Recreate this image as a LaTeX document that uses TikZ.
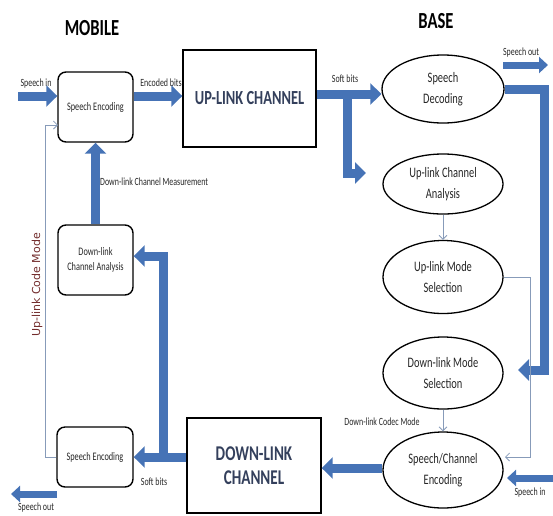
\documentclass[tikz,border=0pt]{standalone}
\usepackage{fontspec}
\setmainfont{Carlito}[FakeStretch=0.72]
\newfontfamily\widefont{DejaVu Sans}
\usetikzlibrary{shapes.geometric,arrows.meta,calc}
\definecolor{thickblue}{RGB}{70,115,182}
\definecolor{thinblue}{RGB}{135,155,185}
\definecolor{codecol}{RGB}{115,45,45}
\definecolor{chtext}{RGB}{52,64,92}
\begin{document}
\begin{tikzpicture}[x=1pt,y=-1pt,
  rbox/.style={draw,line width=1.4pt,rounded corners=8pt,inner sep=0pt,align=center,
    font=\fontsize{11.5}{15}\selectfont,text=black!85},
  chbox/.style={draw,line width=1.4pt,inner sep=0pt,align=center,
    font=\bfseries\fontsize{20}{24}\selectfont,text=chtext},
  ell/.style={draw,ellipse,line width=1.3pt,inner sep=0pt,align=center,
    font=\fontsize{14.5}{21}\selectfont,text=black!85},
  fat/.style={draw=thickblue,line width=9pt,line join=miter,-{Triangle[length=11pt,width=21pt]}},
  mid/.style={draw=thickblue,line width=7pt,-{Triangle[length=9pt,width=16pt]}},
  thin/.style={draw=thinblue,line width=0.8pt,-{Straight Barb[length=4pt,width=8pt]}},
  lbl/.style={inner sep=0pt,font=\fontsize{11}{13}\selectfont,text=black!85},
  title/.style={inner sep=0pt,font=\bfseries\fontsize{23}{26}\selectfont}
]
\useasboundingbox (0,0) rectangle (553,515);

% titles
\node[title] (tmob) at (92,28) {MOBILE};
\node[title] (tbase) at (436,21) {BASE};

% mobile side
\node[rbox,minimum width=75pt,minimum height=70pt] (seTop) at (95.5,107) {Speech Encoding};
\node[rbox,minimum width=75pt,minimum height=70pt] (dca) at (95.5,260) {Down-link\\Channel Analysis};
\node[rbox,minimum width=76pt,minimum height=60pt] (seBot) at (95,457) {Speech Encoding};

% channels
\node[chbox,minimum width=133pt,minimum height=97pt] (upch) at (249.5,98.5) {UP-LINK CHANNEL};
\node[chbox,minimum width=134pt,minimum height=95pt,font=\bfseries\fontsize{21}{24}\selectfont] (dnch) at (254,465.5) {DOWN-LINK\\CHANNEL};

% base side
\node[ell,minimum width=122pt,minimum height=68pt] (sd) at (443,89) {Speech\\Decoding};
\node[ell,minimum width=120pt,minimum height=60pt] (uca) at (443,184) {Up-link Channel\\Analysis};
\node[ell,minimum width=120pt,minimum height=73pt] (ums) at (443,277) {Up-link Mode\\Selection};
\node[ell,minimum width=120pt,minimum height=72pt] (dms) at (443,373) {Down-link Mode\\Selection};
\node[ell,minimum width=120pt,minimum height=76pt] (sce) at (443,470) {Speech/Channel\\Encoding};

% helper coordinates
\coordinate (sinA) at (18,96);
\coordinate (sbY) at (0,94);
\coordinate (br1) at (347,94);
\coordinate (br2) at (366,173);
\coordinate (so1) at (503,65);
\coordinate (so2) at (548,65);
\coordinate (rx) at (544,0);
\coordinate (dmtip) at (518,370);
\coordinate (tx) at (530,0);
\coordinate (scein) at (505,457);
\coordinate (si1) at (553,478);
\coordinate (si2) at (507,478);
\coordinate (lx) at (45,0);
\coordinate (tin) at (58,125);
\coordinate (bx) at (163,457);
\coordinate (bY) at (0,256);
\coordinate (sob1) at (57,494);
\coordinate (sob2) at (11,494);

% thick connectors
\draw[fat] (sinA) -- (sinA -| seTop.west);
\draw[fat] (seTop.east |- sinA) -- (upch.west |- sinA);
\draw[fat] (upch.east |- sbY) -- (sd.west |- sbY);
\draw[fat] (br1) -- (br1 |- br2) -- (br2);
\draw[mid] (so1) -- (so2);
\draw[fat] (sd.east) -| (rx |- dmtip) -- (dmtip);
\draw[mid] (si1) -- (si2);
\draw[fat] (sce.west |- 0,468) -- (dnch.east |- 0,468);
\draw[fat] (dnch.west |- seBot) -- (seBot.east);
\draw[fat] (bx) -- (bx |- bY) -- (dca.east |- bY);
\draw[fat] (dca.north) -- (seTop.south);
\draw[mid] (sob1) -- (sob2);

% thin connectors
\draw[thin] (uca.south) -- (ums.north);
\draw[thin] (ums.east) -| (tx |- scein) -- (scein);
\draw[thin] (dms.south) -- (sce.north);
\draw[thin] (seBot.west) -- (lx |- seBot.west) -- (lx |- tin) -- (tin);

% labels
\node[lbl] (lsin) at (36,84) {Speech in};
\node[lbl] (lenc) at (161,83) {Encoded bits};
\node[lbl] (lsb1) at (345,79) {Soft bits};
\node[lbl] (lso1) at (521,53) {Speech out};
\node[lbl,anchor=west] (ldcm) at (100,182) {Down-link Channel Measurement};
\node[inner sep=0pt,rotate=90,font=\widefont\fontsize{11}{13}\selectfont,text=codecol] (lucm) at (37,285) {Up-link Code Mode};
\node[lbl] (ldcc) at (382,422) {Down-link Codec Mode};
\node[lbl] (lsi2) at (530,493) {Speech in};
\node[lbl] (lsb2) at (154,482) {Soft bits};
\node[lbl] (lso2) at (36,508) {Speech out};
\end{tikzpicture}
\end{document}
